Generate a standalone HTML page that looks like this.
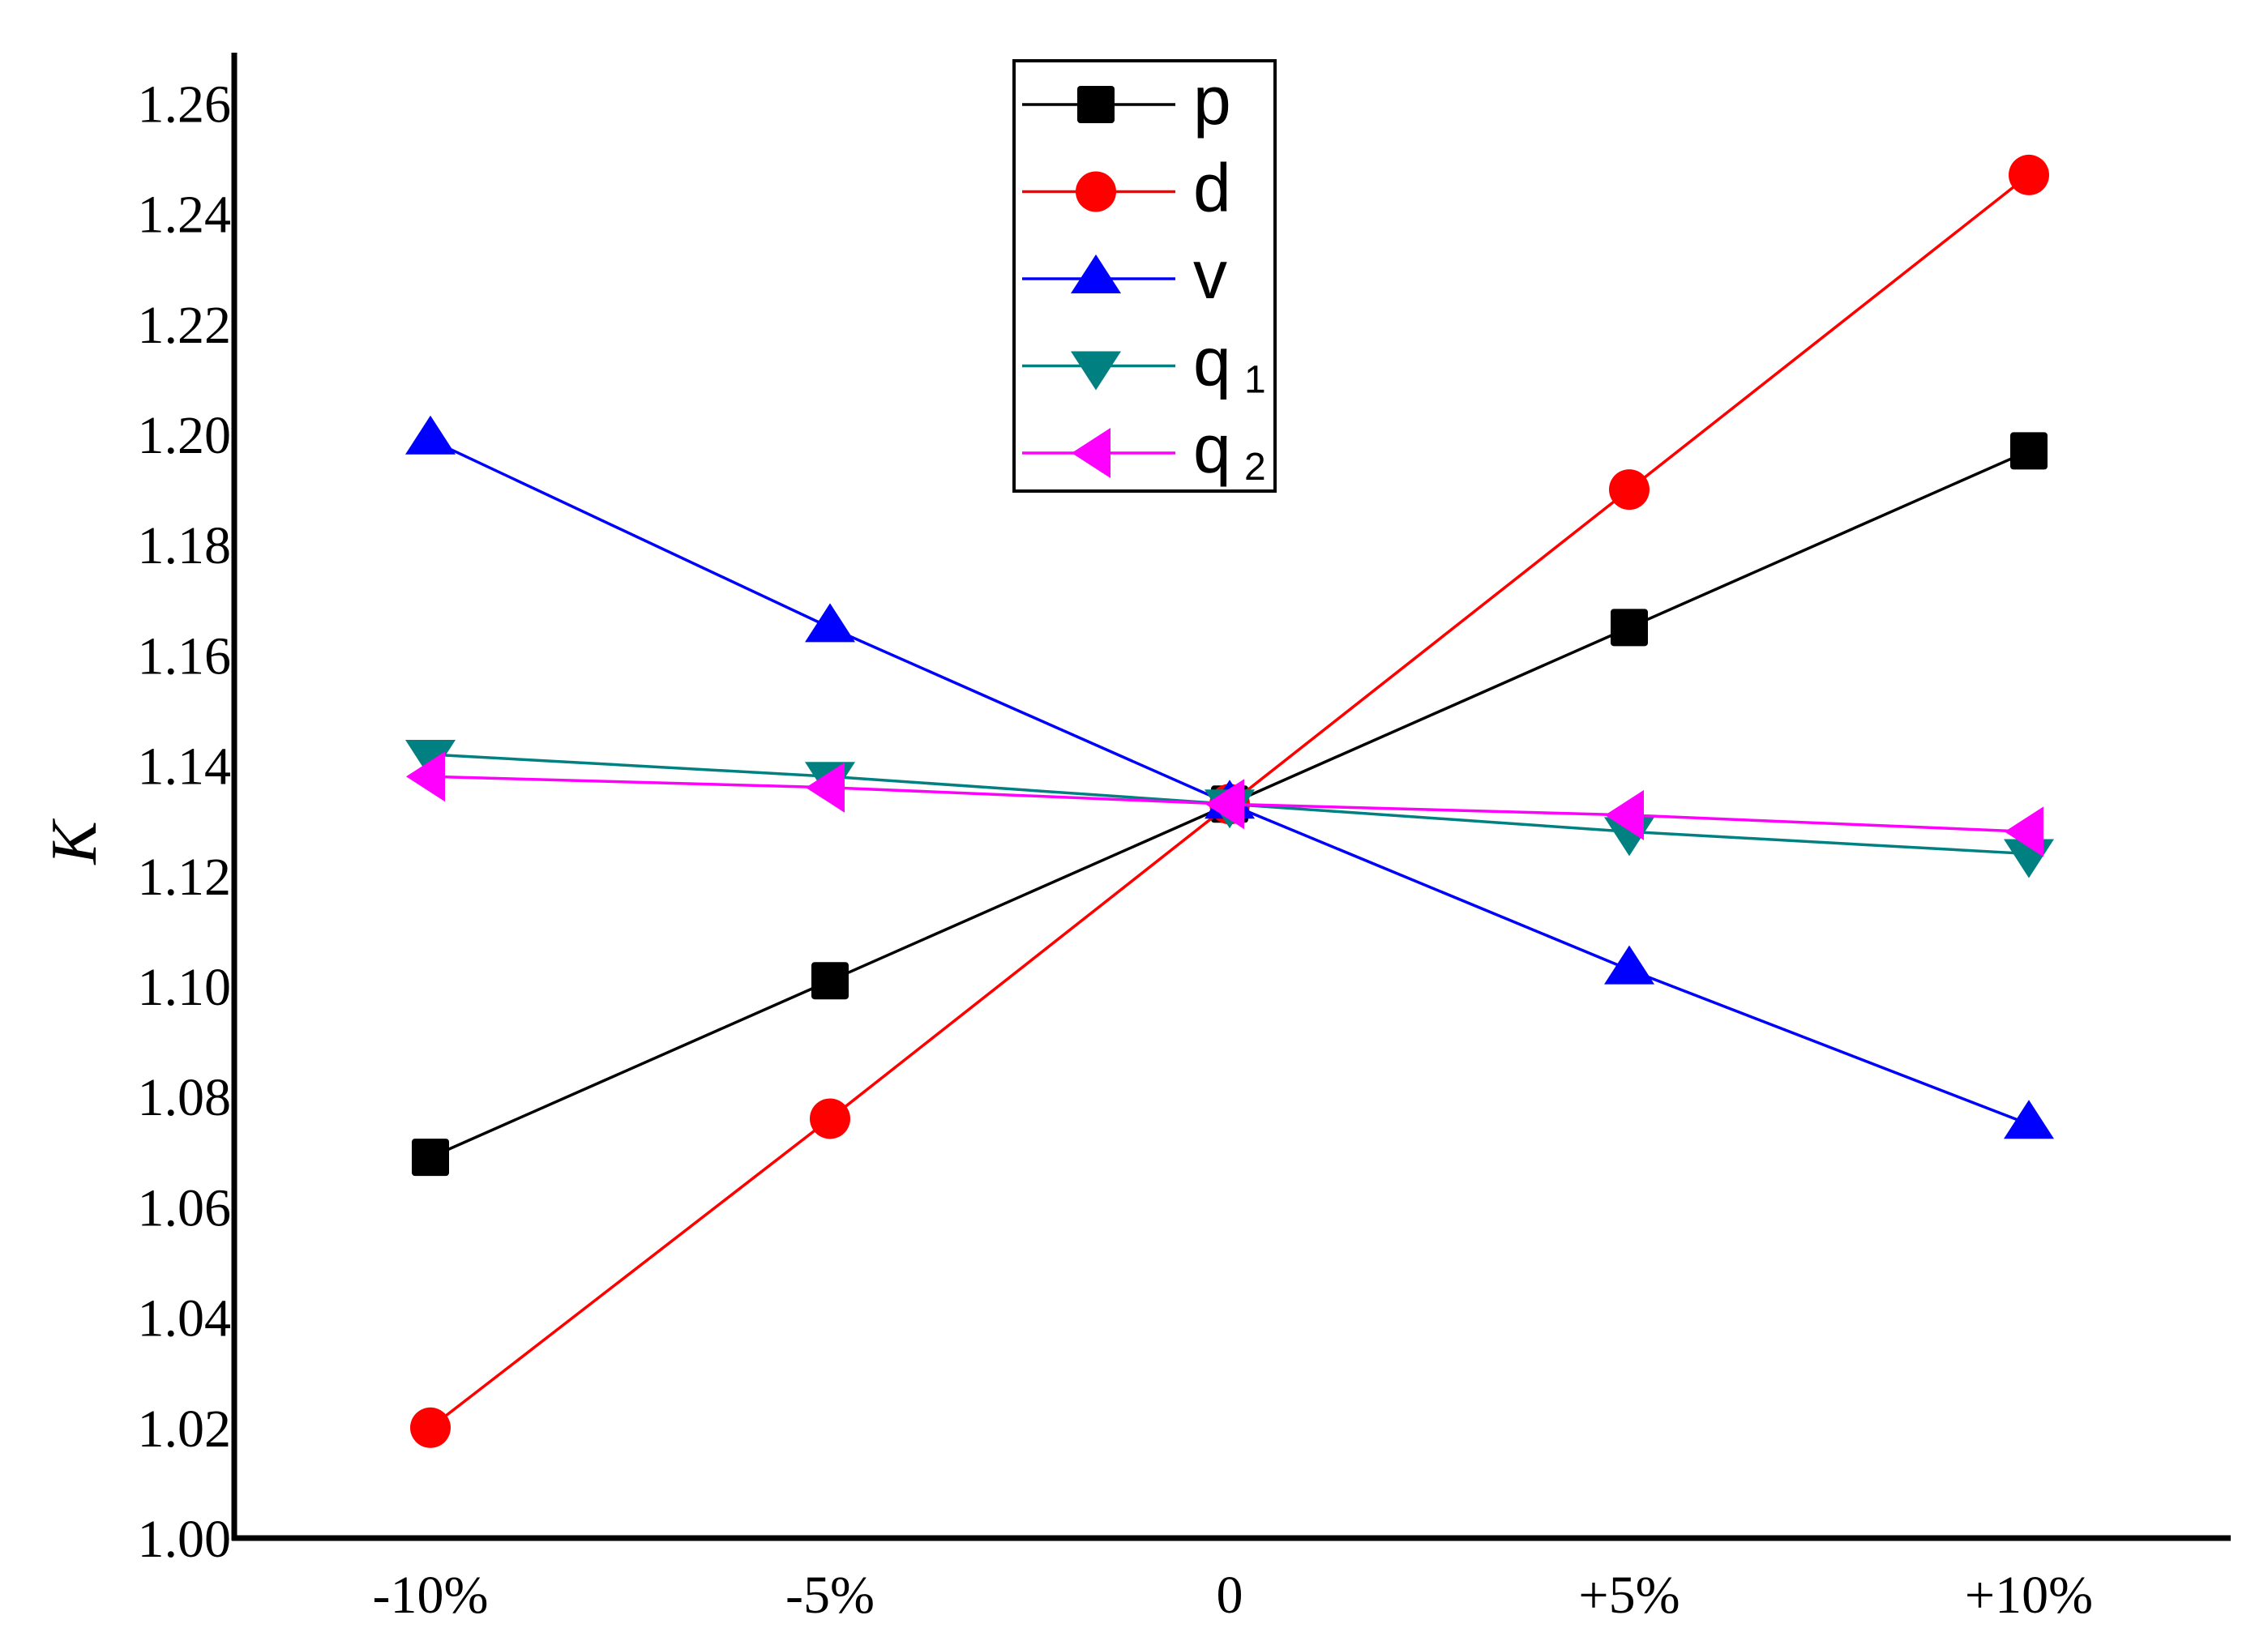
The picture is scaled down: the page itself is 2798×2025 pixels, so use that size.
<!DOCTYPE html>
<html><head><meta charset="utf-8"><style>
html,body{margin:0;padding:0;background:#fff;}
svg{display:block;}
text{font-family:"Liberation Serif",serif;}
.leg{font-family:"Liberation Sans",sans-serif;}
</style></head><body>
<svg id="chart" width="2798" height="2025" viewBox="0 0 2798 2025" xmlns="http://www.w3.org/2000/svg">
<g id="marks"></g>
<g id="axes"></g>
<g id="legend"></g>
</svg>
<script>
const categories = ["-10%","-5%","0","+5%","+10%"];
const yTicks = [1.00,1.02,1.04,1.06,1.08,1.10,1.12,1.14,1.16,1.18,1.20,1.22,1.24,1.26];
const pVals  = [1.069,1.101,1.133,1.165,1.197];
const dVals  = [1.020,1.076,1.133,1.190,1.247];
const vVals  = [1.199,1.165,1.133,1.103,1.075];
const q1Vals = [1.142,1.138,1.133,1.128,1.124];
const q2Vals = [1.138,1.136,1.133,1.131,1.128];

const NS="http://www.w3.org/2000/svg";
const X0=289, X1=2752, Y0=1898, YTOP=65;
function xScale(i){return 531+i*493;}
function yScale(v){return Y0-(v-1.00)/0.02*136.2;}
function mk(tag,attrs,parent){const e=document.createElementNS(NS,tag);for(const k in attrs)e.setAttribute(k,attrs[k]);parent.appendChild(e);return e;}
function marker(shape,cx,cy,color,parent){
  let e;
  if(shape==="square") e=mk("rect",{x:cx-23,y:cy-23,width:46,height:46,rx:4,fill:color},parent);
  else if(shape==="circle") e=mk("circle",{cx:cx,cy:cy,r:25,fill:color},parent);
  else if(shape==="up") e=mk("polygon",{points:`${cx},${cy-30} ${cx-31},${cy+18} ${cx+31},${cy+18}`,fill:color},parent);
  else if(shape==="down") e=mk("polygon",{points:`${cx},${cy+30} ${cx-31},${cy-18} ${cx+31},${cy-18}`,fill:color},parent);
  else e=mk("polygon",{points:`${cx-30},${cy} ${cx+18},${cy-31} ${cx+18},${cy+31}`,fill:color},parent);
  return e;
}
const series=[
 {name:"p",vals:pVals,color:"#000000",shape:"square"},
 {name:"d",vals:dVals,color:"#ff0000",shape:"circle"},
 {name:"v",vals:vVals,color:"#0000ff",shape:"up"},
 {name:"q1",vals:q1Vals,color:"#008080",shape:"down"},
 {name:"q2",vals:q2Vals,color:"#ff00ff",shape:"left"}
];
const plot=document.getElementById("marks");
series.forEach(s=>{
  const g=mk("g",{},plot);
  
  
  const pts=s.vals.map((v,i)=>xScale(i)+","+yScale(v)).join(" ");
  const l=mk("polyline",{points:pts,fill:"none",stroke:s.color,"stroke-width":3.5},g);
  
  
  s.vals.forEach((v,i)=>{
    const m=marker(s.shape,xScale(i),yScale(v),s.color,g);
    
    
  });
});
const ax=document.getElementById("axes");
const ya=mk("line",{x1:X0,y1:YTOP,x2:X0,y2:Y0+3,stroke:"#000","stroke-width":7},ax);


const xa=mk("line",{x1:X0-3,y1:Y0,x2:X1,y2:Y0,stroke:"#000","stroke-width":7},ax);


yTicks.forEach(t=>{
  const tx=mk("text",{x:X0-4,y:yScale(t)+23,"text-anchor":"end","font-size":66},ax);
  tx.textContent=t.toFixed(2);
  
  
});
categories.forEach((c,i)=>{
  const tx=mk("text",{x:xScale(i),y:1990,"text-anchor":"middle","font-size":66},ax);
  tx.textContent=c;
  
  
});
const yt=mk("text",{x:0,y:0,"text-anchor":"middle","font-size":80,"font-style":"italic",transform:"translate(118,1040) rotate(-90)"},ax);
yt.textContent="K";



const lg=document.getElementById("legend");
const box=mk("rect",{x:1251,y:75,width:322,height:531,fill:"#fff",stroke:"#000","stroke-width":4},lg);


const subs=["","","","1","2"];
const labs=["p","d","v","q","q"];
series.forEach((s,i)=>{
  const cy=129+i*107.5;
  const g=mk("g",{},lg);
  
  
  mk("line",{x1:1261,y1:cy,x2:1450,y2:cy,stroke:s.color,"stroke-width":3.5},g);
  marker(s.shape,1352,cy,s.color,g);
  const t=mk("text",{x:1472,y:cy+24,"font-size":84,"class":"leg"},g);
  t.textContent=labs[i];
  if(subs[i]){
    const st=mk("text",{x:1535,y:cy+33,"font-size":48,"class":"leg"},g);
    st.textContent=subs[i];
  }
});
</script>
</body></html>
